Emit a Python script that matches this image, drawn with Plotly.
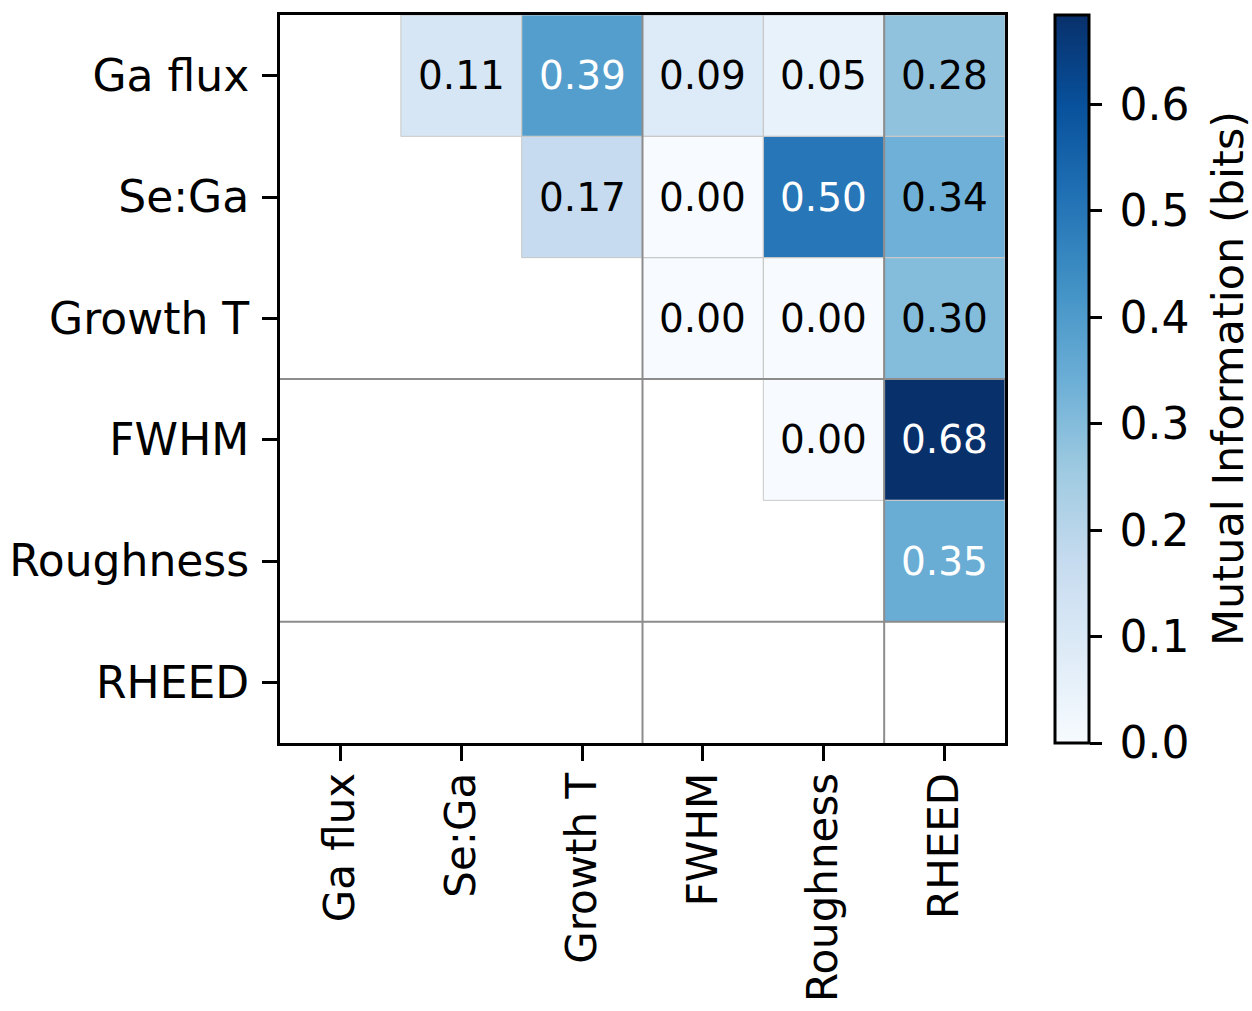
import plotly.graph_objects as go

# Pairwise mutual information between growth inputs and film outputs (upper triangle only)
variables = ["Ga flux", "Se:Ga", "Growth T", "FWHM", "Roughness", "RHEED"]
row_ga_flux = [None, 0.11, 0.39, 0.09, 0.05, 0.28]
row_se_ga = [None, None, 0.17, 0.00, 0.50, 0.337]
row_growth_t = [None, None, None, 0.00, 0.00, 0.30]
row_fwhm = [None, None, None, None, 0.00, 0.684]
row_roughness = [None, None, None, None, None, 0.346]
row_rheed = [None, None, None, None, None, None]
mi_matrix = [row_ga_flux, row_se_ga, row_growth_t, row_fwhm, row_roughness, row_rheed]

colorbar_ticks = [0.0, 0.1, 0.2, 0.3, 0.4, 0.5, 0.6]
colorbar_title = "Mutual Information (bits)"

# Matplotlib-style "Blues" colour map
blues = ["#f7fbff", "#deebf7", "#c6dbef", "#9ecae1", "#6baed6",
         "#4292c6", "#2171b5", "#08519c", "#08306b"]
colorscale = [[i / (len(blues) - 1), c] for i, c in enumerate(blues)]

zmax = max(v for row in mi_matrix for v in row if v is not None)
FONT = "DejaVu Sans"
PLOT_L, PLOT_R, PLOT_T, PLOT_B = 280, 1005, 15, 743
PLOT_W = PLOT_R - PLOT_L

fig = go.Figure()
fig.add_trace(go.Heatmap(
    z=mi_matrix,
    x=list(range(len(variables))),
    y=list(range(len(variables))),
    colorscale=colorscale,
    zmin=0, zmax=zmax,
    hoverinfo="skip",
    colorbar=dict(
        x=(1055 - PLOT_L) / PLOT_W, xanchor="left", xpad=0,
        y=0.5, yanchor="middle", ypad=0,
        len=1, lenmode="fraction",
        thickness=34,
        outlinewidth=3, outlinecolor="black",
        ticks="outside", ticklen=12, tickwidth=3, tickcolor="black",
        tickvals=colorbar_ticks,
        ticktext=[f"\u2009{t:.1f}" for t in colorbar_ticks],
        tickfont=dict(family=FONT, size=44, color="black"),
    ),
))

shapes = []
annotations = []
for r, row in enumerate(mi_matrix):
    for c, v in enumerate(row):
        if v is None:
            continue
        # thin light edge around each filled cell
        shapes.append(dict(type="rect", xref="x", yref="y",
                           x0=c - 0.5, x1=c + 0.5, y0=r - 0.5, y1=r + 0.5,
                           line=dict(color="#c8c8c8", width=1), layer="above"))
        annotations.append(dict(x=c, y=r, xref="x", yref="y", showarrow=False,
                                text=f"{v:.2f}",
                                font=dict(family=FONT, size=39,
                                          color="white" if v > zmax / 2 else "black")))

# colour bar label
annotations.append(dict(x=(1228 - PLOT_L) / PLOT_W, y=0.5, xref="paper", yref="paper",
                        xanchor="center", yanchor="middle", showarrow=False,
                        textangle=-90, text=colorbar_title,
                        font=dict(family=FONT, size=43, color="black")))

# group separators between inputs / structural outputs / RHEED
for b in (2.5, 4.5):
    shapes.append(dict(type="line", xref="x", yref="paper", x0=b, x1=b, y0=0, y1=1,
                       line=dict(color="#8c8c8c", width=2), layer="above"))
    shapes.append(dict(type="line", xref="paper", yref="y", x0=0, x1=1, y0=b, y1=b,
                       line=dict(color="#8c8c8c", width=2), layer="above"))

axis_common = dict(
    tickmode="array",
    tickvals=list(range(len(variables))),
    ticktext=variables,
    ticks="outside", ticklen=15, tickwidth=3, tickcolor="black",
    showline=True, linewidth=3, linecolor="black", mirror=True,
    showgrid=False, zeroline=False, automargin=False,
)

fig.update_layout(
    width=1252, height=1011,
    margin=dict(l=PLOT_L, r=1252 - PLOT_R, t=PLOT_T, b=1011 - PLOT_B),
    paper_bgcolor="white", plot_bgcolor="white",
    xaxis=dict(range=[-0.5, 5.5], tickangle=-90, ticklabelstandoff=-5,
               tickfont=dict(family=FONT, size=42, color="black"), **axis_common),
    yaxis=dict(range=[5.5, -0.5], ticklabelstandoff=4,
               tickfont=dict(family=FONT, size=44, color="black"), **axis_common),
    shapes=shapes,
    annotations=annotations,
)

fig.write_html("out.html")
